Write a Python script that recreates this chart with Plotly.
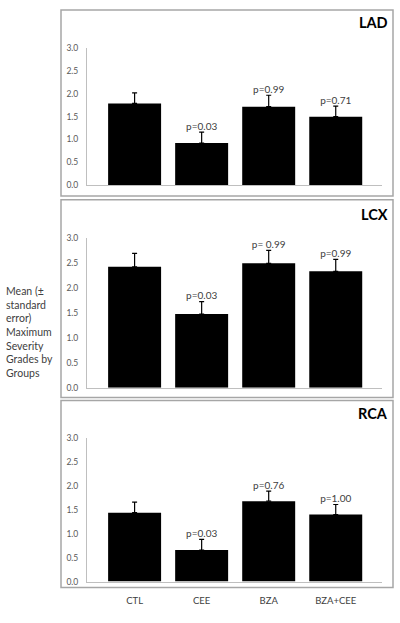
import plotly.graph_objects as go

groups = ["CTL", "CEE", "BZA", "BZA+CEE"]
panels = ["LAD", "LCX", "RCA"]

lad_mean = [1.79, 0.92, 1.72, 1.50]
lad_se = [0.23, 0.24, 0.25, 0.23]
lad_p = ["", "p=0.03", "p=0.99", "p=0.71"]

lcx_mean = [2.43, 1.48, 2.50, 2.34]
lcx_se = [0.27, 0.25, 0.26, 0.24]
lcx_p = ["", "p=0.03", "p= 0.99", "p=0.99"]

rca_mean = [1.44, 0.66, 1.68, 1.40]
rca_se = [0.22, 0.22, 0.21, 0.21]
rca_p = ["", "p=0.03", "p=0.76", "p=1.00"]

y_ticks = [0, 0.5, 1.0, 1.5, 2.0, 2.5, 3.0]
y_title = "Mean (±<br>standard<br>error)<br>Maximum<br>Severity<br>Grades by<br>Groups"

W, H = 400, 623
FONT = "Lato, 'Open Sans', sans-serif"

means = [lad_mean, lcx_mean, rca_mean]
ses = [lad_se, lcx_se, rca_se]
ps = [lad_p, lcx_p, rca_p]

# pixel layout (top, bottom of plot area) and panel boxes
plot_px = [(44, 183), (237.3, 389), (440, 586)]
box_px = [(5, 194), (198, 399), (402, 592)]
title_px = [18, 212.5, 415.5]
x_dom = [87 / W, 382 / W]

fig = go.Figure()
for i, name in enumerate(panels):
    xa = "x" if i == 0 else f"x{i+1}"
    ya = "y" if i == 0 else f"y{i+1}"
    fig.add_trace(go.Bar(
        x=groups, y=means[i], xaxis=xa, yaxis=ya,
        marker=dict(color="black", line=dict(width=0)),
        error_y=dict(type="data", array=ses[i], arrayminus=[0] * 4,
                     symmetric=False, color="black", thickness=1.2, width=2.5),
        showlegend=False, hoverinfo="skip",
    ))
    # p-value labels above error bars
    fig.add_trace(go.Scatter(
        x=groups, y=[m + s for m, s in zip(means[i], ses[i])],
        xaxis=xa, yaxis=ya, mode="text", text=ps[i],
        textposition="top center",
        textfont=dict(family=FONT, size=10, color="#404040"),
        showlegend=False, hoverinfo="skip",
    ))
    top, bot = plot_px[i]
    dom = [1 - bot / H, 1 - top / H]
    xkey = "xaxis" if i == 0 else f"xaxis{i+1}"
    ykey = "yaxis" if i == 0 else f"yaxis{i+1}"
    fig.layout[xkey] = dict(
        domain=x_dom, anchor=ya, range=[-0.71, 3.69],
        showline=True, linecolor="#bfbfbf", linewidth=1,
        showgrid=False, ticks="", zeroline=False,
        showticklabels=(i == 2),
        tickfont=dict(family=FONT, size=9.5, color="#404040"),
        ticklabelstandoff=10,
        fixedrange=True,
    )
    fig.layout[ykey] = dict(
        domain=dom, anchor=xa, range=[0, 3],
        tickvals=y_ticks, tickformat=".1f",
        showline=True, linecolor="#bfbfbf", linewidth=1,
        showgrid=False, ticks="", zeroline=False,
        tickfont=dict(family=FONT, size=8.5, color="#595959"),
        ticklabelstandoff=6,
        fixedrange=True,
    )
    bt, bb = box_px[i]
    fig.add_shape(type="rect", xref="paper", yref="paper",
                  x0=61 / W, x1=393 / W, y0=1 - bb / H, y1=1 - bt / H,
                  line=dict(color="#a6a6a6", width=1.5), layer="below")
    fig.add_annotation(xref="paper", yref="paper", x=390 / W,
                       y=1 - title_px[i] / H, text=f"<b>{name}</b>",
                       showarrow=False, xanchor="right", yanchor="middle",
                       font=dict(family=FONT, size=14.5, color="black"))

fig.add_annotation(xref="paper", yref="paper", x=4 / W, y=1 - 332 / H,
                   text=y_title, showarrow=False, xanchor="left",
                   yanchor="middle", align="left",
                   font=dict(family=FONT, size=10.5, color="#404040"))

fig.update_layout(
    width=W, height=H, margin=dict(l=0, r=0, t=0, b=0),
    paper_bgcolor="white", plot_bgcolor="white",
    bargap=0.21, font=dict(family=FONT),
)

fig.write_html(
    "out.html",
    config={"displayModeBar": False},
    post_script="document.body.style.margin='0';document.body.style.overflow='hidden';",
)
